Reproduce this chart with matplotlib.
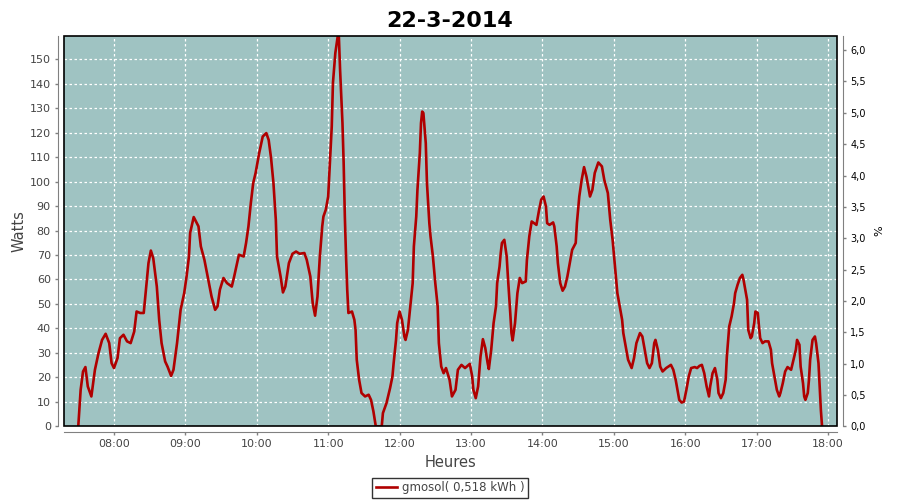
import matplotlib
matplotlib.use("Agg")
import matplotlib.pyplot as plt
from matplotlib.patches import Rectangle
from matplotlib.ticker import FuncFormatter, MultipleLocator
import numpy as np

# data (time of day, power in W)
heures = [
    "07:30", "07:32", "07:34", "07:36", "07:38", "07:41", "07:44", "07:47", "07:50", "07:53",
    "07:56", "07:58", "08:00", "08:03", "08:05", "08:08", "08:11", "08:14", "08:17", "08:19",
    "08:22", "08:25", "08:27", "08:29", "08:31", "08:33", "08:36", "08:38", "08:40", "08:43",
    "08:45", "08:48", "08:50", "08:53", "08:56", "08:59", "09:01", "09:03", "09:04", "09:07",
    "09:11", "09:13", "09:16", "09:19", "09:22", "09:25", "09:27", "09:29", "09:32", "09:35",
    "09:39", "09:41", "09:45", "09:49", "09:51", "09:53", "09:55", "09:57", "09:59", "10:02",
    "10:05", "10:08", "10:10", "10:12", "10:14", "10:16", "10:17", "10:20", "10:22", "10:24",
    "10:27", "10:30", "10:33", "10:36", "10:40", "10:42", "10:45", "10:47", "10:49", "10:51",
    "10:53", "10:55", "10:56", "10:58", "11:00", "11:01", "11:03", "11:04", "11:06", "11:08",
    "11:09", "11:10", "11:12", "11:13", "11:14", "11:15", "11:16", "11:17", "11:20", "11:22",
    "11:23", "11:24", "11:26", "11:28", "11:31", "11:34", "11:36", "11:38", "11:40", "11:45",
    "11:46", "11:49", "11:52", "11:54", "11:55", "11:57", "11:58", "12:00", "12:02", "12:04",
    "12:05", "12:07", "12:09", "12:11", "12:12", "12:14", "12:15", "12:17", "12:18", "12:19",
    "12:20", "12:22", "12:23", "12:25", "12:26", "12:28", "12:30", "12:32", "12:33", "12:35",
    "12:37", "12:39", "12:42", "12:44", "12:47", "12:49", "12:52", "12:55", "12:59", "13:01",
    "13:02", "13:04", "13:06", "13:08", "13:10", "13:12", "13:14", "13:15", "13:17", "13:19",
    "13:21", "13:22", "13:24", "13:25", "13:26", "13:28", "13:30", "13:31", "13:33", "13:34",
    "13:35", "13:37", "13:39", "13:41", "13:43", "13:46", "13:47", "13:49", "13:51", "13:53",
    "13:55", "13:57", "13:59", "14:01", "14:03", "14:04", "14:06", "14:09", "14:10", "14:12",
    "14:13", "14:15", "14:17", "14:19", "14:21", "14:23", "14:25", "14:28", "14:29", "14:31",
    "14:33", "14:35", "14:37", "14:40", "14:42", "14:44", "14:47", "14:50", "14:52", "14:55",
    "14:57", "14:59", "15:01", "15:03", "15:05", "15:07", "15:08", "15:10", "15:12", "15:15",
    "15:17", "15:19", "15:22", "15:24", "15:26", "15:28", "15:30", "15:32", "15:34", "15:35",
    "15:37", "15:39", "15:41", "15:44", "15:48", "15:50", "15:52", "15:54", "15:55", "15:57",
    "15:59", "16:01", "16:03", "16:05", "16:08", "16:10", "16:12", "16:14", "16:16", "16:18",
    "16:20", "16:21", "16:23", "16:25", "16:27", "16:28", "16:30", "16:32", "16:34", "16:35",
    "16:37", "16:39", "16:41", "16:42", "16:44", "16:46", "16:48", "16:49", "16:52", "16:53",
    "16:55", "16:56", "16:58", "16:59", "17:01", "17:02", "17:03", "17:05", "17:07", "17:10",
    "17:12", "17:13", "17:15", "17:17", "17:19", "17:20", "17:22", "17:24", "17:26", "17:27",
    "17:29", "17:31", "17:33", "17:34", "17:36", "17:37", "17:39", "17:40", "17:41", "17:43",
    "17:44", "17:45", "17:47", "17:49", "17:50", "17:52", "17:53", "17:54", "17:55",
]
watts = [
    0, 14.9, 22.4, 24.2, 16.3, 12.2, 23.1, 29.9, 35.3, 37.8,
    34, 25.8, 23.8, 27.9, 36, 37.4, 34.7, 34, 38.7, 46.9,
    46.3, 46.3, 56.5, 66.7, 71.8, 68.7, 57.1, 43.5, 34, 26.5,
    24.4, 20.6, 23.1, 34, 47.6, 54.4, 61.2, 69.4, 79, 85.5,
    81.7, 73.5, 68, 60.6, 53, 47.6, 49, 55.8, 60.6, 58.5,
    57.1, 61.2, 70.1, 69.4, 74.9, 81.7, 91.2, 99.4, 103.5, 111.6,
    118.4, 119.8, 117, 109.6, 99.4, 84.4, 69.4, 61.2, 54.7, 57.1,
    66.7, 70.5, 71.4, 70.5, 70.8, 68, 61.2, 50.3, 45.2, 53,
    69.4, 81.7, 85.7, 88.5, 93.9, 103.5, 122.5, 140.3, 152.5, 159.3,
    159, 145.7, 123.9, 107.6, 85.7, 69.4, 55.8, 46.3, 46.9, 43.5,
    39.4, 27.2, 19, 13.6, 12.2, 12.9, 10.8, 6.1, 0, 0,
    5.4, 9.5, 15.6, 20.4, 25.8, 35.3, 42.2, 46.9, 43.5, 36.7,
    35.3, 39.4, 49, 58.5, 73.5, 85.7, 96.6, 111.6, 123.9, 128.6,
    128, 115.7, 99.4, 83, 77.6, 69.4, 58.5, 49, 34, 24.4,
    21.7, 23.8, 19, 12.2, 14.9, 23.1, 25.1, 23.8, 25.5, 20.4,
    14.9, 11.5, 16.3, 28.5, 35.6, 32, 25.8, 23.4, 31.3, 42.2,
    49, 58.5, 65.3, 70.8, 74.9, 76.2, 69.4, 61.2, 46.3, 38.1,
    35.1, 42.2, 54.4, 60.6, 58.5, 59.2, 68, 77.6, 83.7, 83,
    82.3, 87.8, 92.6, 93.9, 89.8, 83, 82.3, 83.3, 81.7, 73.5,
    66.7, 58.5, 55.4, 57.1, 61.2, 66.7, 72.1, 74.9, 83, 93.9,
    100.7, 105.9, 102.1, 93.9, 96.6, 103.5, 107.8, 106.2, 100.7, 95.3,
    84.4, 76.2, 65.3, 54.4, 49, 43.5, 38.1, 32.6, 27.2, 23.8,
    27.9, 34, 38.1, 36.7, 31.3, 25.8, 23.8, 25.8, 34, 35.3,
    31.3, 24.4, 22.4, 23.8, 25.1, 23.1, 19, 13.6, 10.8, 9.7,
    10.1, 14.9, 20.4, 23.8, 24.2, 23.8, 24.7, 25.1, 21.7, 16.3,
    12.2, 16.3, 21.7, 23.8, 19, 13.6, 11.5, 13.6, 19, 28.5,
    40.8, 44.9, 50.3, 54.4, 57.8, 60.6, 61.9, 59.9, 51.7, 39.4,
    36, 36.7, 42.2, 46.9, 46.3, 40.8, 36, 34, 34.7, 34.7,
    31.3, 25.8, 20.4, 14.9, 12.2, 13.6, 17.6, 22.4, 24.2, 23.8,
    23.1, 27.2, 31.3, 35.3, 33.3, 24.4, 17.6, 12.2, 10.8, 13.6,
    19, 27.2, 35.3, 36.7, 34, 25.8, 16.3, 6.7, 0,
]
titre = "22-3-2014"
legende = "gmosol( 0,518 kWh )"

# convert "HH:MM" to decimal hours
x = np.array([int(h[:2]) + int(h[3:]) / 60 for h in heures])
y = np.array(watts)

fig = plt.figure(figsize=(9, 5), dpi=100)
ax = fig.add_axes([0.0711, 0.1474, 0.8589, 0.7812])
ax.set_facecolor("#9fc3c2")

line, = ax.plot(x, y, color="#b00000", lw=1.9, zorder=3)

ax.set_xlim(7.30, 18.126)
ax.set_ylim(0, 159.6)
ax.xaxis.set_major_locator(MultipleLocator(1))
ax.xaxis.set_major_formatter(FuncFormatter(lambda v, p: "%02d:00" % round(v)))
ax.yaxis.set_major_locator(MultipleLocator(10))
ax.grid(True, color="white", linestyle=(0, (2, 2)), lw=0.9)
ax.set_axisbelow(True)

gray = "#808080"
txt = "#444444"
for s in ["left", "bottom"]:
    ax.spines[s].set_position(("outward", 4))
    ax.spines[s].set_color(gray)
ax.spines["right"].set_visible(False)
ax.spines["top"].set_visible(False)
ax.tick_params(colors=gray, labelcolor=txt, labelsize=8, length=2.5, width=1, pad=3)

# black frame around the plot area
ax.add_patch(Rectangle((0, 0), 1, 1, transform=ax.transAxes, fill=False,
                       edgecolor="black", lw=1.2, zorder=5, clip_on=False))

ax.set_ylabel("Watts", fontsize=10.5, color=txt, labelpad=2)
ax.set_xlabel("Heures", fontsize=10.5, color=txt, labelpad=4)

# right axis in %
ax2 = ax.twinx()
ax2.set_ylim(0, 6.23)
ax2.yaxis.set_major_locator(MultipleLocator(0.5))
ax2.yaxis.set_major_formatter(FuncFormatter(lambda v, p: ("%.1f" % v).replace(".", ",")))
for s in ["left", "bottom", "top"]:
    ax2.spines[s].set_visible(False)
ax2.spines["right"].set_position(("outward", 4))
ax2.spines["right"].set_color(gray)
ax2.tick_params(colors=gray, labelcolor="black", labelsize=7, length=2.5, width=1, pad=3)
ax2.set_ylabel("%", fontsize=8, color="black", labelpad=6)

fig.suptitle(titre, fontsize=16, fontweight="bold", y=0.978)

leg = fig.legend([line], [legende], loc="center", bbox_to_anchor=(0.5, 0.024),
                 fontsize=8.5, frameon=True, fancybox=False, handlelength=1.8,
                 borderpad=0.3, handletextpad=0.4)
leg.get_frame().set_edgecolor("black")
leg.get_frame().set_linewidth(1.0)
for t in leg.get_texts():
    t.set_color(txt)

fig.savefig("out.png", dpi=100)
